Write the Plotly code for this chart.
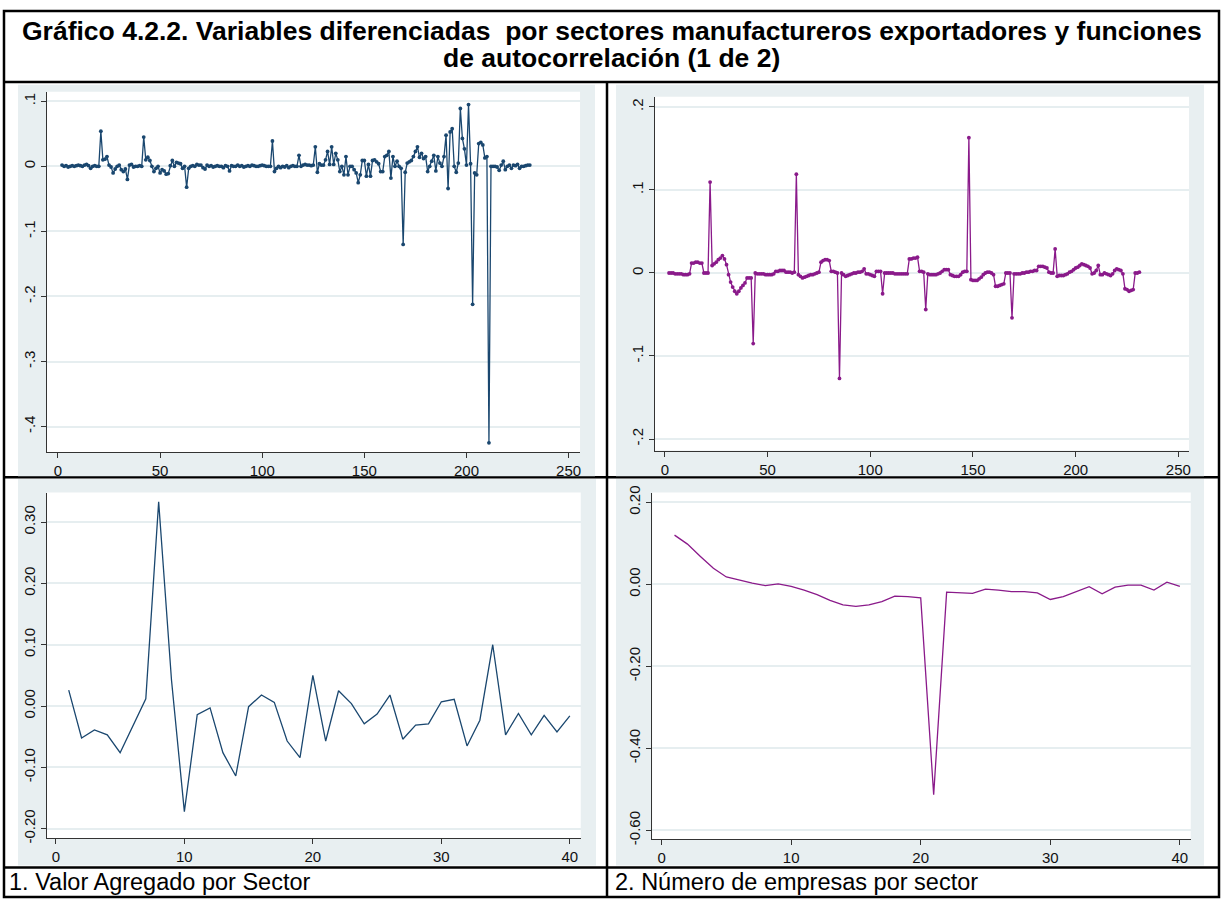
import plotly.graph_objects as go

# ---------------- DATA ----------------
# Top-left: Valor agregado (differenced), periods 2..231
va_t = list(range(2, 232))
va_y = [
    0.002, 0.000, 0.001, -0.001, 0.000, 0.001, 0.000, 0.001, 0.002, 0.001,
    0.000, 0.002, 0.003, 0.001, -0.003, 0.000, 0.001, 0.000, 0.000,            # 2-20
    0.054,                                                                      # 21
    0.010, 0.011, 0.015, 0.002, -0.001, -0.010, -0.004, 0.000, 0.002, -0.005,
    -0.008, -0.004, -0.020,                                                     # 22-34
    0.002, 0.003, -0.001, 0.000, 0.000, 0.001, 0.000,                           # 35-41
    0.045,                                                                      # 42
    0.010, 0.014, 0.009, 0.000, -0.008, -0.003, 0.000, -0.010, -0.005, -0.007,
    -0.012, -0.011, 0.001, 0.009, 0.000, 0.006, 0.005, 0.004, -0.003, 0.000,    # 43-62
    -0.032,                                                                     # 63
    -0.003, 0.000, 0.001, 0.000, 0.003, 0.002, 0.002, -0.002, -0.004, 0.002,
    0.000, 0.001, -0.001, 0.000, 0.001, 0.000, 0.000, -0.002, 0.001, 0.000,
    -0.007, 0.001, 0.000, 0.000, 0.002, 0.000, 0.001, -0.001, 0.000, 0.001,
    0.000, 0.002, 0.001, 0.000, 0.000, 0.001, 0.002, 0.001, 0.000, 0.000,
    0.000,                                                                      # 64-104
    0.039,                                                                      # 105
    -0.008, -0.003, 0.000, -0.002, 0.000, -0.001, 0.001, -0.002, 0.000, 0.001,
    0.000, 0.000,                                                               # 106-117
    0.017, 0.000, 0.002, 0.003, 0.002, 0.002, 0.001, 0.002, 0.030,              # 118-126
    -0.009, 0.004, 0.002, 0.002, 0.010, 0.023, 0.003, 0.030, 0.003, 0.020,
    0.010, -0.008, 0.000, -0.013, 0.015, -0.013, 0.000, 0.000, -0.005, -0.010,
    -0.025, -0.013, 0.009, 0.009, -0.015, 0.003, -0.015, 0.009, 0.010, 0.007,
    0.004, -0.008, -0.008, 0.015, 0.017, 0.023, -0.018, 0.015, 0.000, 0.008,
    0.000, -0.003,                                                              # 127-168
    -0.120,                                                                     # 169
    -0.009, 0.005, 0.007, 0.009, 0.015, 0.023, 0.030, 0.014, 0.020, 0.012,
    0.015, -0.008, 0.000, 0.008, 0.017, -0.007, 0.015, 0.005, 0.000, 0.015,     # 170-189
    0.048, -0.034, 0.053, 0.058, 0.000, -0.009, 0.005, 0.089, 0.043, 0.027,
    0.002, 0.095, 0.004, -0.212, -0.010, -0.013, 0.035, 0.037, 0.033, 0.013,
    0.015, -0.425,                                                              # 190-211
    0.000, 0.000, 0.000, -0.001, -0.006, 0.002, 0.008, -0.005, 0.000, 0.002,
    -0.003, 0.002, 0.001, 0.003, -0.003, 0.000, 0.000, 0.001, 0.002, 0.002,     # 212-231
]

# Top-right: Numero de empresas (differenced), periods 2..231
ne_t = list(range(2, 232))
ne_y = [
    0.000, 0.000, 0.000, -0.001, -0.001, -0.001, -0.001, -0.002, -0.002, -0.002,
    -0.001,                                                                     # 2-12
    0.012, 0.012, 0.013, 0.013, 0.012, 0.012,                                   # 13-18
    0.000, 0.000, 0.000,                                                        # 19-21
    0.1095,                                                                     # 22
    0.009, 0.011, 0.013, 0.016, 0.018, 0.021, 0.017, 0.010, -0.002, -0.011,
    -0.017, -0.022, -0.025, -0.022, -0.018, -0.015, -0.012, -0.006, -0.006,
    -0.006,                                                                     # 23-42
    -0.085,                                                                     # 43
    0.000, -0.001, -0.001, -0.001, -0.001, -0.002, -0.002, -0.002, -0.002,
    -0.001, 0.002, 0.002, 0.003, 0.003, 0.003, 0.001, 0.001, 0.001, 0.000,
    0.001,                                                                      # 44-63
    0.119,                                                                      # 64
    -0.002, -0.004, -0.006, -0.005, -0.004, -0.003, -0.002, -0.002, -0.001,
    0.000, 0.001, 0.013, 0.015, 0.016, 0.016, 0.015, 0.002, 0.002, 0.001,
    0.000,                                                                      # 65-84
    -0.127,                                                                     # 85
    0.000, -0.002, -0.004, -0.003, -0.002, -0.001, 0.000, 0.000, 0.001, 0.001,
    0.002, 0.005, -0.001, -0.001, -0.002, -0.003, -0.004, 0.002, 0.002, 0.002,  # 86-105
    -0.025,                                                                     # 106
    0.000, 0.000, 0.000, 0.000, 0.000, -0.001, -0.001, -0.001, -0.001, -0.001,
    -0.001, -0.001,                                                             # 107-118
    0.017, 0.017, 0.018, 0.018, 0.019, 0.002, 0.002, 0.001,                     # 119-126
    -0.044,                                                                     # 127
    -0.001, -0.002, -0.002, -0.002, -0.002, -0.001, 0.000, 0.002, 0.004, 0.004,
    0.004, -0.002, -0.003, -0.004, -0.004, -0.004, -0.002, 0.001, 0.002, 0.002, # 128-147
    0.163,                                                                      # 148
    -0.008, -0.009, -0.009, -0.009, -0.007, -0.005, -0.002, 0.000, 0.001, 0.001,
    0.000, -0.002, -0.016, -0.016, -0.015, -0.014, -0.013, 0.000, 0.000, 0.000, # 149-168
    -0.054,                                                                     # 169
    -0.001, -0.001, -0.001, -0.001, 0.000, 0.000, 0.001, 0.001, 0.002, 0.002,
    0.003, 0.003, 0.008, 0.008, 0.008, 0.007, 0.006, 0.001, 0.000, 0.000,       # 170-189
    0.029,                                                                      # 190
    -0.004, -0.003, -0.003, -0.003, -0.002, -0.001, 0.001, 0.002, 0.004, 0.006,
    0.007, 0.009, 0.011, 0.010, 0.009, 0.008, 0.006, -0.001, 0.000, 0.003,
    0.009, -0.002, -0.002, 0.000, -0.001, -0.002, -0.003, -0.001, 0.003, 0.005,
    0.004, 0.003, -0.001, -0.019, -0.020, -0.022, -0.021, -0.020, 0.000, 0.000,
    0.001,                                                                      # 191-231
]

# Bottom: autocorrelation functions, lags 1..40
lags = list(range(1, 41))
acf_va = [
    0.026, -0.052, -0.039, -0.047, -0.076, -0.033, 0.012, 0.333, 0.042, -0.172,
    -0.014, -0.003, -0.076, -0.114, -0.001, 0.018, 0.006, -0.057, -0.084, 0.050,
    -0.057, 0.025, 0.004, -0.029, -0.013, 0.018, -0.054, -0.031, -0.029, 0.007,
    0.011, -0.065, -0.023, 0.100, -0.047, -0.012, -0.047, -0.015, -0.042, -0.016,
]
acf_ne = [
    0.120, 0.098, 0.068, 0.039, 0.018, 0.010, 0.003, -0.003, 0.001, -0.005,
    -0.014, -0.025, -0.039, -0.050, -0.054, -0.050, -0.042, -0.029, -0.030, -0.033,
    -0.513, -0.019, -0.021, -0.022, -0.012, -0.014, -0.018, -0.018, -0.021, -0.037,
    -0.030, -0.018, -0.006, -0.023, -0.007, -0.002, -0.002, -0.014, 0.005, -0.005,
]

tl_yticks = [0.1, 0.0, -0.1, -0.2, -0.3, -0.4]
tl_ylabels = [".1", "0", "-.1", "-.2", "-.3", "-.4"]
tr_yticks = [0.2, 0.1, 0.0, -0.1, -0.2]
tr_ylabels = [".2", ".1", "0", "-.1", "-.2"]
top_xticks = [0, 50, 100, 150, 200, 250]
bl_yticks = [0.3, 0.2, 0.1, 0.0, -0.1, -0.2]
bl_ylabels = ["0.30", "0.20", "0.10", "0.00", "-0.10", "-0.20"]
br_yticks = [0.2, 0.0, -0.2, -0.4, -0.6]
br_ylabels = ["0.20", "0.00", "-0.20", "-0.40", "-0.60"]
bot_xticks = [0, 10, 20, 30, 40]

title_l1 = "Gráfico 4.2.2. Variables diferenciadas  por sectores manufactureros exportadores y funciones"
title_l2 = "de autocorrelación (1 de 2)"
cap1 = "1. Valor Agregado por Sector"
cap2 = "2. Número de empresas por sector"

# ---------------- STYLE ----------------
W, H = 1225, 905
NAVY = "#1a476f"
PURPLE = "#8a1a8a"
PANEL = "#e8eff1"
GRID = "#e6eef0"
AXIS = "#333333"
FONT = "Liberation Sans, Arial, sans-serif"


def px(x):
    return x / W


def py(y):
    return 1 - y / H


fig = go.Figure()

fig.add_trace(go.Scatter(x=va_t, y=va_y, mode="lines+markers",
                         line=dict(color=NAVY, width=1.3),
                         marker=dict(color=NAVY, size=3.8),
                         xaxis="x", yaxis="y", showlegend=False))
fig.add_trace(go.Scatter(x=ne_t, y=ne_y, mode="lines+markers",
                         line=dict(color=PURPLE, width=1.3),
                         marker=dict(color=PURPLE, size=3.8),
                         xaxis="x2", yaxis="y2", showlegend=False))
fig.add_trace(go.Scatter(x=lags, y=acf_va, mode="lines",
                         line=dict(color=NAVY, width=1.3),
                         xaxis="x3", yaxis="y3", showlegend=False))
fig.add_trace(go.Scatter(x=lags, y=acf_ne, mode="lines",
                         line=dict(color=PURPLE, width=1.3),
                         xaxis="x4", yaxis="y4", showlegend=False))


def xax(dom, rng, ticks, anchor):
    return dict(domain=[px(dom[0]), px(dom[1])], range=rng, tickvals=ticks,
                ticktext=[str(t) for t in ticks], showgrid=False, zeroline=False,
                showline=True, linecolor=AXIS, linewidth=1.2, ticks="outside",
                ticklen=5, tickcolor=AXIS, tickfont=dict(family=FONT, size=15, color="#111"),
                anchor=anchor, fixedrange=True)


def yax(dom, rng, ticks, labels, anchor):
    return dict(domain=[py(dom[1]), py(dom[0])], range=rng, tickvals=ticks,
                ticktext=labels, showgrid=True, gridcolor=GRID, gridwidth=1.5,
                zeroline=False, showline=True, linecolor=AXIS, linewidth=1.2,
                ticks="outside", ticklen=5, tickcolor=AXIS, tickangle=-90,
                tickfont=dict(family=FONT, size=15, color="#111"),
                anchor=anchor, fixedrange=True)


PLOTS = {
    "tl": (47, 86, 581, 451.7),
    "tr": (655.7, 91, 1191, 450),
    "bl": (46.7, 492.7, 581.7, 843.3),
    "br": (653.3, 492.7, 1192.7, 844.3),
}

fig.update_layout(
    width=W, height=H, margin=dict(l=0, r=0, t=0, b=0),
    paper_bgcolor="white", plot_bgcolor="white",
    xaxis=xax((47, 581), [-5.4, 255.6], top_xticks, "y"),
    yaxis=yax((86, 451.7), [-0.4394, 0.1147], tl_yticks, tl_ylabels, "x"),
    xaxis2=xax((655.7, 1191), [-5.0, 255.2], top_xticks, "y2"),
    yaxis2=yax((91, 450), [-0.2139, 0.2124], tr_yticks, tr_ylabels, "x2"),
    xaxis3=xax((46.7, 581.7), [-0.72, 40.85], bot_xticks, "y3"),
    yaxis3=yax((492.7, 843.3), [-0.2154, 0.348], bl_yticks, bl_ylabels, "x3"),
    xaxis4=xax((653.3, 1192.7), [-0.72, 40.84], bot_xticks, "y4"),
    yaxis4=yax((492.7, 844.3), [-0.6216, 0.2236], br_yticks, br_ylabels, "x4"),
)

CAP_LINE = 873
shapes = []
LW = 2.5
# table lines that sit beneath the pasted graph images
shapes.append(dict(type="line", xref="paper", yref="paper", layer="below",
                   x0=px(4), x1=px(1221), y0=py(477), y1=py(477),
                   line=dict(color="black", width=LW)))
shapes.append(dict(type="line", xref="paper", yref="paper", layer="below",
                   x0=px(608), x1=px(608), y0=py(76), y1=py(CAP_LINE),
                   line=dict(color="black", width=LW)))
# panel backgrounds (graph regions)
for (x0, y0, x1, y1) in [(18, 79, 596, 476), (617, 79, 1206, 476),
                         (18, 479, 597, 871), (617, 479, 1206, 871)]:
    shapes.append(dict(type="rect", xref="paper", yref="paper", layer="below",
                       x0=px(x0), x1=px(x1), y0=py(y1), y1=py(y0),
                       fillcolor=PANEL, line=dict(width=0)))
# white plot regions
for (x0, y0, x1, y1) in PLOTS.values():
    shapes.append(dict(type="rect", xref="paper", yref="paper", layer="below",
                       x0=px(x0), x1=px(x1), y0=py(y1), y1=py(y0),
                       fillcolor="white", line=dict(width=0)))
# outer table border and horizontal rules
shapes.append(dict(type="rect", xref="paper", yref="paper", layer="above",
                   x0=px(4), x1=px(1221), y0=py(903), y1=py(4),
                   line=dict(color="black", width=LW), fillcolor="rgba(0,0,0,0)"))
for yy in [76, CAP_LINE]:
    shapes.append(dict(type="line", xref="paper", yref="paper", layer="above",
                       x0=px(4), x1=px(1221), y0=py(yy), y1=py(yy),
                       line=dict(color="black", width=LW)))
shapes.append(dict(type="line", xref="paper", yref="paper", layer="above",
                   x0=px(608), x1=px(608), y0=py(CAP_LINE), y1=py(903),
                   line=dict(color="black", width=LW)))
fig.update_layout(shapes=shapes)

anns = [
    dict(text="<b>" + title_l1 + "</b>", x=0.5, y=py(24), xref="paper", yref="paper",
         showarrow=False, xanchor="center", yanchor="middle",
         font=dict(family=FONT, size=26.5, color="black")),
    dict(text="<b>" + title_l2 + "</b>", x=0.5, y=py(52), xref="paper", yref="paper",
         showarrow=False, xanchor="center", yanchor="middle",
         font=dict(family=FONT, size=26.5, color="black")),
    dict(text=cap1, x=px(7), y=py(888), xref="paper", yref="paper",
         showarrow=False, xanchor="left", yanchor="middle",
         font=dict(family=FONT, size=23.5, color="black")),
    dict(text=cap2, x=px(614), y=py(888), xref="paper", yref="paper",
         showarrow=False, xanchor="left", yanchor="middle",
         font=dict(family=FONT, size=23.5, color="black")),
]
fig.update_layout(annotations=anns)

fig.write_html("out.html")
